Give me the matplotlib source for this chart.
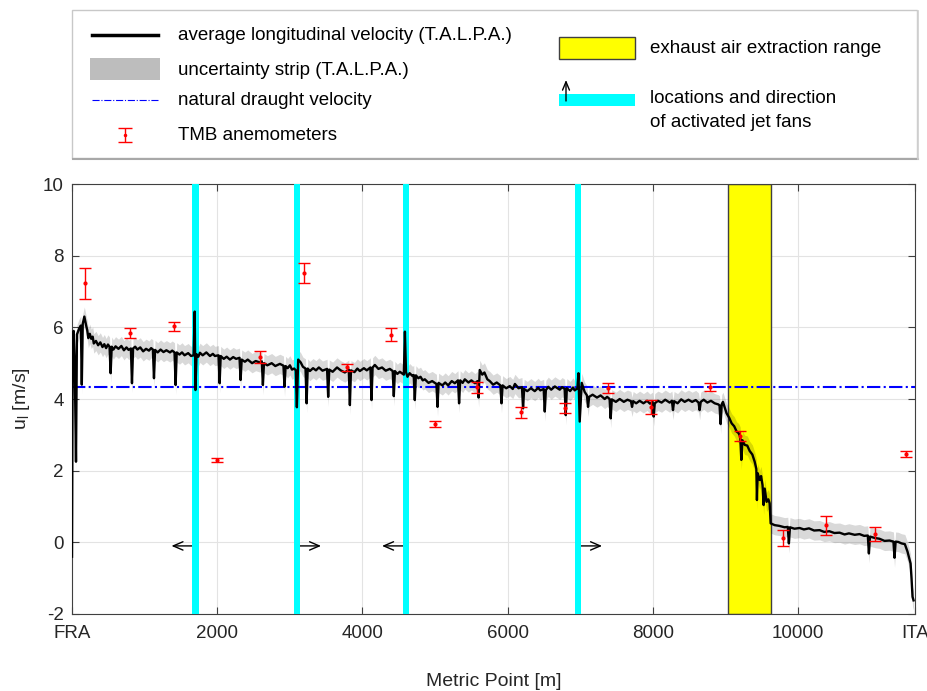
import matplotlib
matplotlib.use('Agg')
from matplotlib import pyplot as plt
from matplotlib.patches import Rectangle
import numpy as np

plt.rcParams['font.family'] = ['Liberation Sans', 'DejaVu Sans']
plt.rcParams['mathtext.fontset'] = 'custom'
plt.rcParams['mathtext.rm'] = 'Liberation Sans'
plt.rcParams['mathtext.it'] = 'Liberation Sans:italic'
plt.rcParams['axes.unicode_minus'] = False

# tunnel ends (metric point)
x_fra = 0
x_ita = 11610

# average longitudinal velocity (T.A.L.P.A.), (metric point, u_l)
avg_velocity = [
    (0, -0.40), (8, 4.50), (22, 5.90), (38, 4.90), (55, 2.25), (68, 5.80), (95, 5.95),
    (122, 6.05), (135, 4.40), (148, 6.10), (170, 6.30), (195, 6.05), (210, 5.92),
    (225, 5.70), (245, 5.82), (265, 5.68), (285, 5.74), (300, 5.55), (330, 5.62),
    (360, 5.50), (390, 5.58), (420, 5.45), (445, 5.53), (470, 5.42), (495, 5.52),
    (517, 5.46), (532, 4.72), (547, 5.46), (570, 5.38), (600, 5.47), (640, 5.40),
    (680, 5.48), (715, 5.36), (750, 5.44), (780, 5.37), (811, 5.41), (826, 4.44),
    (841, 5.41), (870, 5.46), (900, 5.38), (940, 5.44), (980, 5.33), (1020, 5.40),
    (1060, 5.35), (1090, 5.42), (1114, 5.38), (1129, 4.58), (1144, 5.37), (1180, 5.30),
    (1220, 5.38), (1260, 5.31), (1300, 5.36), (1349, 5.30), (1380, 5.35), (1412, 5.30),
    (1427, 4.39), (1442, 5.30), (1480, 5.24), (1515, 5.30), (1550, 5.22), (1600, 5.28),
    (1640, 5.20), (1675, 5.22), (1690, 6.44), (1700, 4.25), (1715, 5.25), (1740, 5.18),
    (1762, 5.29), (1800, 5.22), (1850, 5.30), (1900, 5.20), (1940, 5.26), (1968, 5.20),
    (2018, 5.22), (2033, 4.44), (2048, 5.20), (2090, 5.12), (2130, 5.18), (2175, 5.10),
    (2220, 5.17), (2260, 5.12), (2307, 5.15), (2322, 4.53), (2337, 5.10), (2381, 5.04),
    (2420, 5.10), (2480, 5.00), (2530, 5.06), (2588, 5.02), (2614, 5.05), (2629, 4.39),
    (2644, 5.00), (2690, 4.94), (2750, 5.00), (2800, 4.92), (2863, 4.98), (2912, 4.93),
    (2927, 4.34), (2942, 4.92), (2970, 4.86), (3001, 4.94), (3030, 4.82), (3060, 4.85),
    (3082, 4.80), (3097, 3.77), (3115, 5.10), (3150, 5.02), (3180, 4.90), (3216, 4.85),
    (3231, 3.88), (3246, 4.85), (3276, 4.78), (3320, 4.86), (3360, 4.80), (3400, 4.88),
    (3450, 4.79), (3513, 4.84), (3528, 4.06), (3543, 4.82), (3590, 4.76), (3650, 4.88),
    (3700, 4.80), (3758, 4.74), (3812, 4.82), (3827, 3.83), (3842, 4.80), (3890, 4.75),
    (3930, 4.85), (3964, 4.78), (4020, 4.86), (4060, 4.80), (4110, 4.88), (4125, 3.97),
    (4140, 4.88), (4171, 4.95), (4220, 4.84), (4270, 4.88), (4320, 4.79), (4377, 4.84),
    (4417, 4.78), (4432, 4.08), (4447, 4.78), (4480, 4.70), (4515, 4.76), (4570, 4.68),
    (4585, 5.88), (4600, 4.75), (4620, 4.62), (4650, 4.72), (4690, 4.64), (4706, 4.67),
    (4721, 3.97), (4736, 4.66), (4770, 4.58), (4800, 4.62), (4830, 4.52), (4859, 4.55),
    (4910, 4.45), (4960, 4.50), (5019, 4.42), (5034, 3.78), (5049, 4.45), (5100, 4.38),
    (5140, 4.46), (5180, 4.38), (5230, 4.50), (5272, 4.44), (5316, 4.52), (5331, 3.88),
    (5346, 4.52), (5380, 4.45), (5410, 4.55), (5460, 4.46), (5500, 4.52), (5550, 4.44),
    (5585, 4.50), (5600, 4.04), (5615, 4.81), (5650, 4.68), (5680, 4.74), (5720, 4.55),
    (5754, 4.50), (5800, 4.40), (5850, 4.46), (5900, 4.38), (5915, 3.88), (5930, 4.38),
    (5980, 4.30), (6029, 4.36), (6070, 4.28), (6100, 4.42), (6150, 4.30), (6197, 4.33),
    (6212, 3.74), (6227, 4.28), (6270, 4.22), (6320, 4.30), (6373, 4.22), (6420, 4.31),
    (6450, 4.24), (6496, 4.28), (6511, 3.65), (6526, 4.25), (6560, 4.34), (6600, 4.26),
    (6650, 4.35), (6717, 4.26), (6750, 4.33), (6785, 4.28), (6800, 3.55), (6815, 4.30),
    (6860, 4.22), (6900, 4.32), (6923, 4.24), (6960, 4.30), (6975, 4.72), (6992, 3.37),
    (7020, 4.45), (7060, 4.20), (7092, 4.10), (7107, 3.78), (7122, 4.06), (7170, 4.12),
    (7230, 4.04), (7280, 4.10), (7336, 4.00), (7370, 4.06), (7404, 4.00), (7419, 3.46),
    (7434, 3.99), (7490, 3.92), (7543, 4.00), (7600, 3.92), (7650, 3.98), (7698, 3.94),
    (7713, 3.78), (7728, 3.94), (7770, 3.88), (7818, 3.95), (7870, 3.88), (7920, 3.95),
    (7960, 3.87), (7996, 3.92), (8011, 3.51), (8026, 3.88), (8070, 3.95), (8120, 3.90),
    (8170, 3.98), (8231, 3.90), (8262, 3.95), (8277, 3.69), (8292, 3.94), (8340, 3.88),
    (8390, 3.99), (8438, 3.92), (8490, 3.98), (8540, 3.92), (8590, 3.97), (8629, 3.90),
    (8644, 3.69), (8659, 3.92), (8700, 3.98), (8750, 3.90), (8800, 3.95), (8851, 3.88),
    (8900, 3.85), (8918, 3.82), (8933, 3.30), (8948, 3.85), (8965, 3.92), (9015, 3.60),
    (9050, 3.48), (9085, 3.32), (9120, 3.24), (9154, 3.09), (9180, 3.05), (9203, 2.95),
    (9218, 2.30), (9233, 2.85), (9264, 2.72), (9300, 2.70), (9333, 2.55), (9370, 2.45),
    (9402, 2.25), (9425, 2.05), (9433, 1.18), (9443, 1.93), (9471, 1.74), (9490, 1.85),
    (9510, 1.60), (9525, 1.04), (9540, 1.50), (9566, 1.13), (9590, 1.20), (9608, 1.09),
    (9622, 0.53), (9677, 0.48), (9740, 0.46), (9814, 0.42), (9858, 0.43), (9873, -0.03),
    (9888, 0.42), (9950, 0.38), (10021, 0.40), (10080, 0.36), (10150, 0.39), (10220, 0.33),
    (10296, 0.34), (10360, 0.29), (10430, 0.31), (10500, 0.26), (10571, 0.27), (10640, 0.22),
    (10700, 0.25), (10780, 0.21), (10846, 0.23), (10910, 0.18), (10960, 0.19), (10975, -0.31),
    (10990, 0.16), (11060, 0.12), (11121, 0.10), (11190, 0.04), (11259, 0.05), (11313, 0.02),
    (11328, -0.43), (11343, 0.02), (11380, 0.01), (11425, -0.03), (11470, -0.05),
    (11507, -0.26), (11549, -0.59), (11562, -1.00), (11576, -1.52), (11590, -1.62),
]
strip_halfwidth = 0.27

# TMB anemometers
tmb_x = [175, 794, 1400, 1996, 2592, 3198, 3790, 4396, 4997, 5584,
         6185, 6786, 7388, 7974, 8782, 9199, 9790, 10388, 11062, 11489]
tmb_u = [7.23, 5.84, 6.03, 2.29, 5.18, 7.52, 4.88, 5.80, 3.30, 4.33,
         3.63, 3.75, 4.32, 3.78, 4.33, 2.97, 0.13, 0.47, 0.23, 2.47]
tmb_err = [0.43, 0.13, 0.12, 0.05, 0.17, 0.27, 0.11, 0.17, 0.08, 0.15,
           0.15, 0.15, 0.14, 0.19, 0.12, 0.14, 0.22, 0.27, 0.20, 0.09]

natural_draught = 4.33
fan_x = [1700, 3100, 4600, 6970]
fan_dir = [-1, 1, -1, 1]
extraction_range = [9030, 9630]

xtick_pos = [x_fra, 2000, 4000, 6000, 8000, 10000, x_ita]
xtick_lab = ['FRA', '2000', '4000', '6000', '8000', '10000', 'ITA']
ytick_pos = [-2, 0, 2, 4, 6, 8, 10]

W, H = 928, 691
fig = plt.figure(figsize=(W / 100, H / 100), dpi=100)
ax = fig.add_axes([72 / W, 1 - 614 / H, (915 - 72) / W, (614 - 184) / H])

vx = np.array([p[0] for p in avg_velocity], dtype=float)
vy = np.array([p[1] for p in avg_velocity], dtype=float)

ax.axvspan(extraction_range[0], extraction_range[1], facecolor='yellow',
           edgecolor='#404040', lw=1, zorder=1)
ax.fill_between(vx, vy - strip_halfwidth, vy + strip_halfwidth, color='k',
                alpha=0.15, lw=0, zorder=2)
for f in fan_x:
    ax.axvspan(f - 45, f + 45, color='cyan', lw=0, zorder=3)
ax.axhline(natural_draught, color='blue', ls='-.', lw=1.5, zorder=4)
ax.plot(vx, vy, color='k', lw=1.7, zorder=5)
ax.errorbar(tmb_x, tmb_u, yerr=tmb_err, fmt='.', color='red', ms=4,
            capsize=4, elinewidth=1, capthick=1, zorder=6)
for f, d in zip(fan_x, fan_dir):
    ax.annotate('', xy=(f + d * 330, -0.1), xytext=(f, -0.1),
                arrowprops=dict(arrowstyle='->,head_length=0.7,head_width=0.3',
                                lw=1, color='k', shrinkA=0, shrinkB=0), zorder=2)

ax.set_xlim(x_fra, x_ita)
ax.set_ylim(-2, 10)
ax.set_xticks(xtick_pos)
ax.set_xticklabels(xtick_lab)
ax.set_yticks(ytick_pos)
ax.set_yticklabels([str(v) for v in ytick_pos])
ax.grid(True, color='#e3e3e3', lw=0.8)
ax.set_axisbelow(True)
ax.tick_params(direction='in', top=True, right=True, length=5, width=0.8,
               color='#404040', labelsize=13.5, labelcolor='#262626')
ax.tick_params(axis='x', pad=8)
ax.tick_params(axis='y', pad=6)
for s in ax.spines.values():
    s.set_color('#404040')
    s.set_linewidth(0.8)
ax.set_xlabel('Metric Point [m]', fontsize=14, color='#262626', labelpad=22)
ax.set_ylabel(r'u$_\mathrm{l}$ [m/s]', fontsize=14, color='#262626', labelpad=8)

# legend box drawn in figure pixel coordinates
lg = fig.add_axes([0, 0, 1, 1], zorder=10)
lg.set_xlim(0, W)
lg.set_ylim(H, 0)
lg.set_axis_off()
lg.patch.set_alpha(0)
lg.add_patch(Rectangle((72, 10), 845, 148, facecolor='white', edgecolor='#c8c8c8', lw=1))
lg.plot([73, 918], [159, 159], color='#a8a8a8', lw=1.5)
lg.plot([918, 918], [11, 159], color='#d0d0d0', lw=1.2)
fs = 13.5
lg.plot([92, 158], [35, 35], color='k', lw=2.5)
lg.text(178, 35, 'average longitudinal velocity (T.A.L.P.A.)', fontsize=fs, va='center')
lg.add_patch(Rectangle((90, 58), 70, 22, facecolor='#bdbdbd', lw=0))
lg.text(178, 70, 'uncertainty strip (T.A.L.P.A.)', fontsize=fs, va='center')
lg.plot([92, 158], [100, 100], color='blue', ls='-.', lw=0.8)
lg.text(178, 100, 'natural draught velocity', fontsize=fs, va='center')
lg.errorbar([125], [135], yerr=[7], fmt='.', color='red', ms=3, capsize=5,
            elinewidth=1, capthick=1)
lg.text(178, 135, 'TMB anemometers', fontsize=fs, va='center')
lg.add_patch(Rectangle((559, 37), 76, 22, facecolor='yellow', edgecolor='#404040', lw=1))
lg.text(650, 48, 'exhaust air extraction range', fontsize=fs, va='center')
lg.annotate('', xy=(566, 80), xytext=(566, 101),
            arrowprops=dict(arrowstyle='->,head_length=0.6,head_width=0.25', lw=1,
                            color='k', shrinkA=0, shrinkB=0))
lg.add_patch(Rectangle((559, 94), 76, 12, facecolor='cyan', lw=0))
lg.text(650, 98, 'locations and direction', fontsize=fs, va='center')
lg.text(650, 122, 'of activated jet fans', fontsize=fs, va='center')

fig.savefig('out.png', dpi=100)
